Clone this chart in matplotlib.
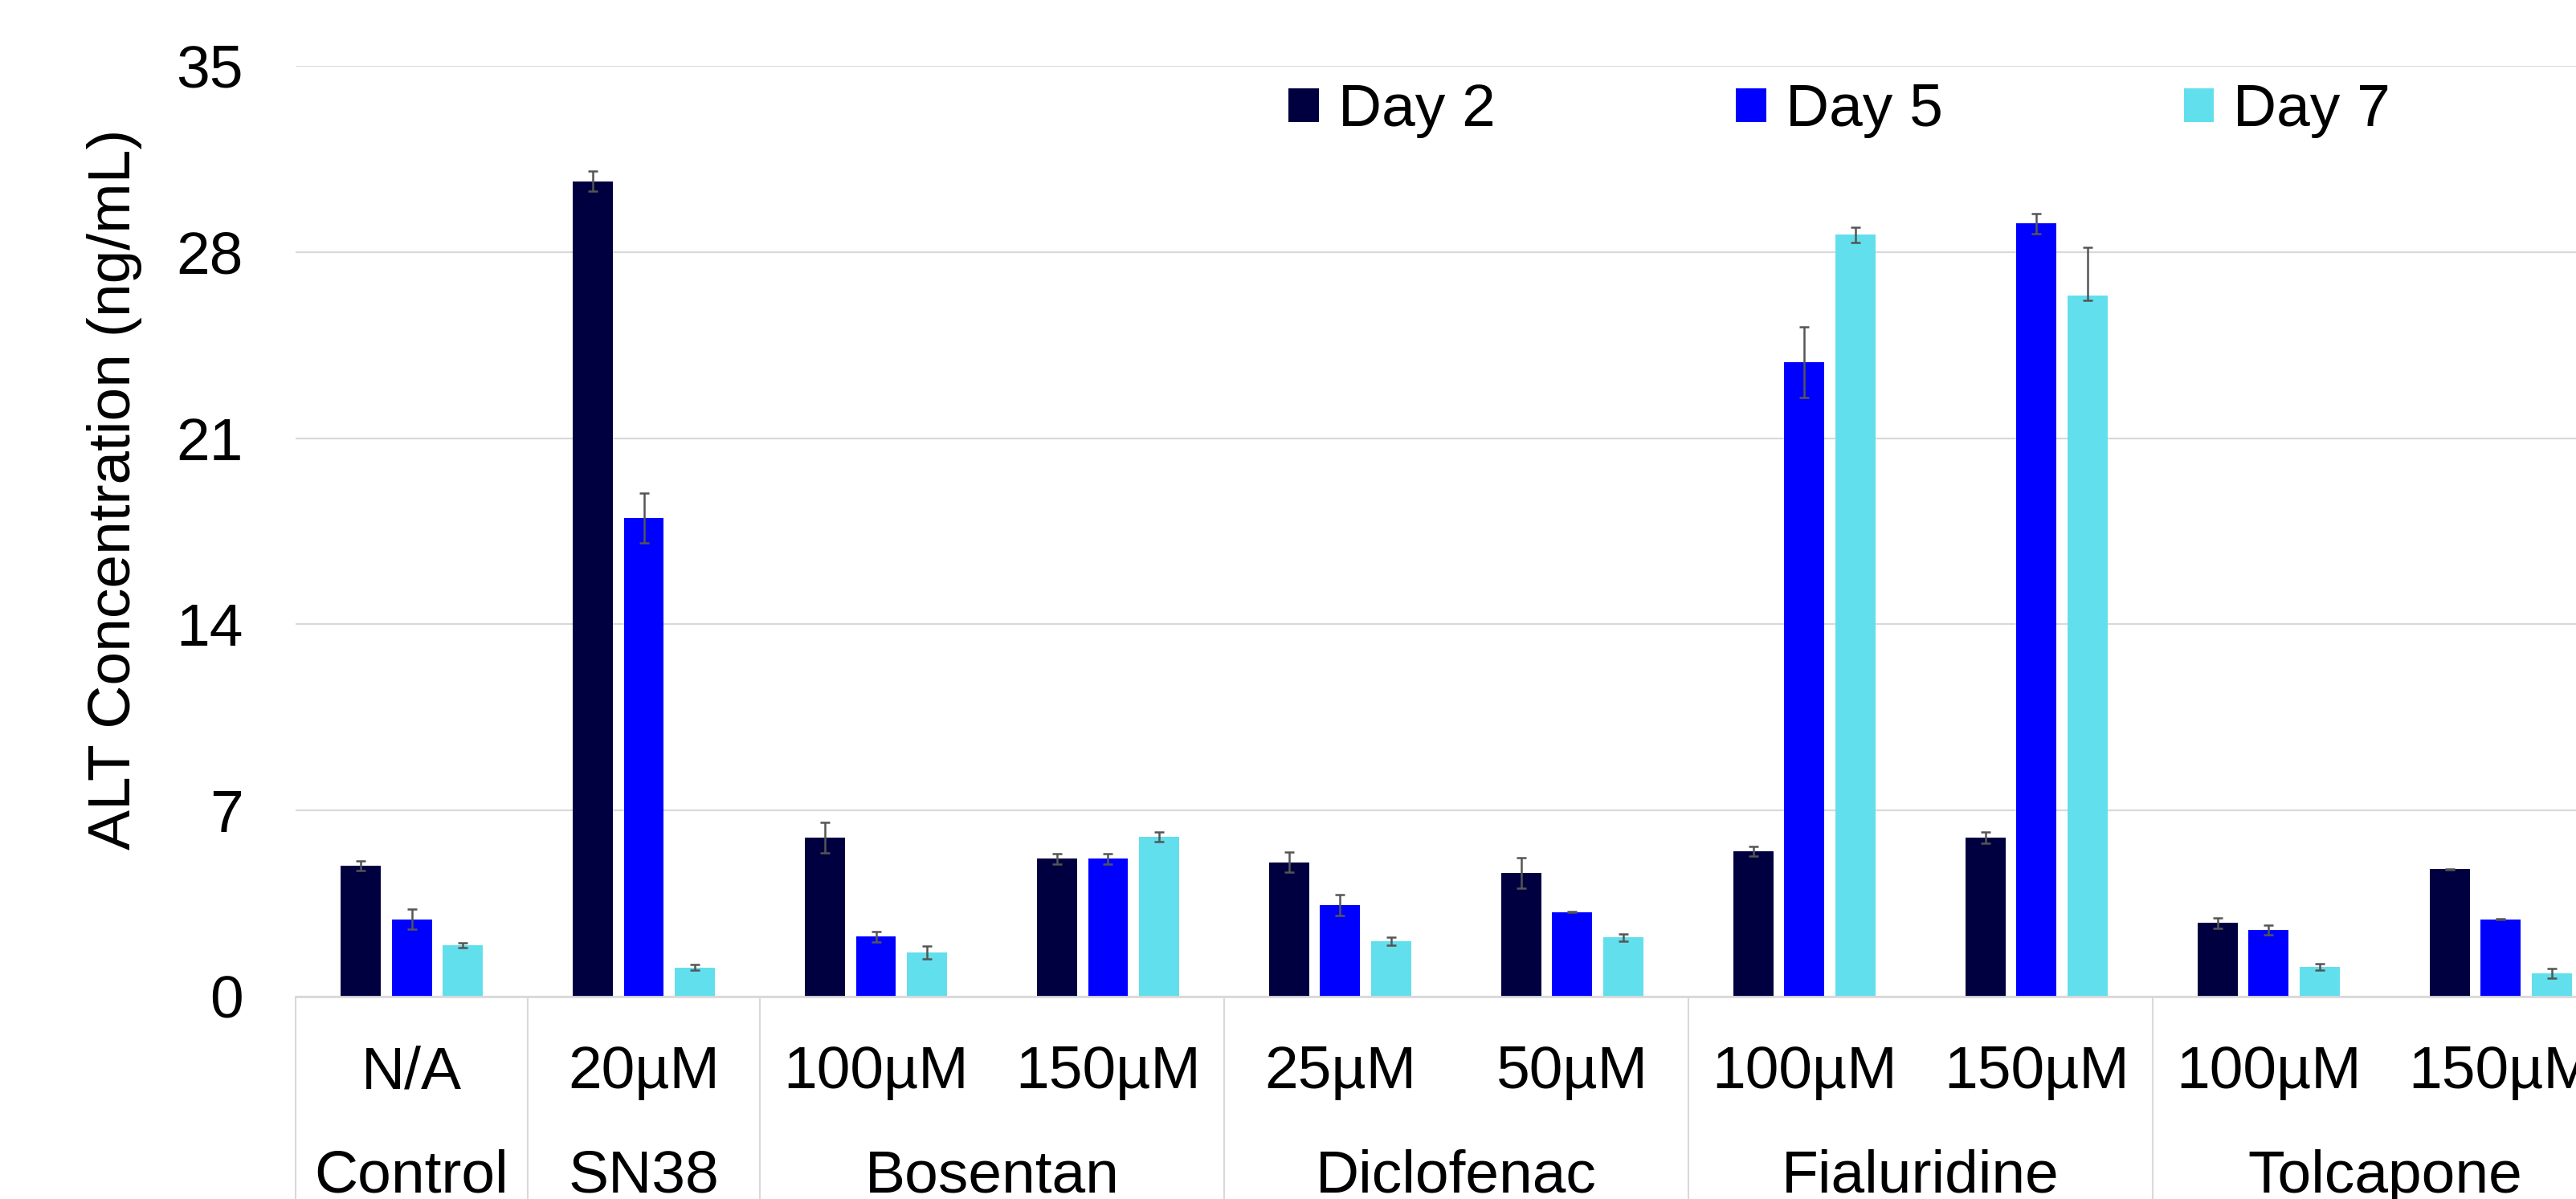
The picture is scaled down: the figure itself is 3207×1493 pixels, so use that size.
import numpy as np
import matplotlib
matplotlib.use("Agg")
from matplotlib import pyplot as plt

plt.rcParams['font.family'] = ['Liberation Sans', 'DejaVu Sans']

# data
doses = ['N/A', '20µM', '100µM', '150µM', '25µM', '50µM', '100µM', '150µM', '100µM', '150µM']
drugs = ['Control', 'SN38', 'Bosentan', 'Diclofenac', 'Fialuridine', 'Tolcapone']
drug_sizes = [1, 1, 2, 2, 2, 2]

day2 = [4.92, 30.66, 5.98, 5.19, 5.05, 4.65, 5.46, 5.98, 2.77, 4.79]
day2_err = [0.19, 0.38, 0.57, 0.20, 0.38, 0.57, 0.19, 0.20, 0.19, 0.02]
day5 = [2.91, 18.00, 2.25, 5.19, 3.44, 3.18, 23.87, 29.07, 2.52, 2.91]
day5_err = [0.38, 0.94, 0.20, 0.20, 0.39, 0.02, 1.33, 0.38, 0.18, 0.02]
day7 = [1.93, 1.10, 1.66, 6.01, 2.08, 2.22, 28.65, 26.35, 1.13, 0.88]
day7_err_hi = [0.10, 0.10, 0.23, 0.19, 0.16, 0.13, 0.29, 1.81, 0.12, 0.19]
day7_err_lo = [0.10, 0.10, 0.23, 0.19, 0.16, 0.13, 0.29, 0.17, 0.12, 0.19]

series = ['Day 2', 'Day 5', 'Day 7']
colors = ['#000040', '#0000FF', '#62DFEC']

fs = 54
grid_c = '#D9D9D9'

fig = plt.figure(figsize=(32.07, 14.93), dpi=100)
ax = fig.add_axes([0.11475, 0.16879, 0.90115, 0.77629])

x = np.arange(len(doses)) + 0.5
pitch = 0.221
w = 0.173
ekw = dict(ecolor='#555555', elinewidth=1.8, capsize=4.5, capthick=1.8)

b2 = ax.bar(x - pitch, day2, w, color=colors[0], yerr=day2_err, error_kw=ekw, label=series[0], zorder=2)
b5 = ax.bar(x, day5, w, color=colors[1], yerr=day5_err, error_kw=ekw, label=series[1], zorder=2)
b7 = ax.bar(x + pitch, day7, w, color=colors[2], yerr=[day7_err_lo, day7_err_hi], error_kw=ekw,
            label=series[2], zorder=2)

ax.set_xlim(0, len(doses))
ax.set_ylim(0, 35)
ax.set_yticks([0, 7, 14, 21, 28, 35])
ax.yaxis.grid(True, color=grid_c, lw=1.6, zorder=0)
ax.set_axisbelow(True)
ax.tick_params(axis='y', length=0, pad=47, labelsize=fs)
ax.set_xticks([])
for s in ['top', 'right', 'left']:
    ax.spines[s].set_visible(False)
ax.spines['bottom'].set_color(grid_c)
ax.spines['bottom'].set_linewidth(2)

ax.set_ylabel('ALT Concentration (ng/mL)', fontsize=fs, va='center')
ax.yaxis.set_label_coords(-0.0779, 0.545)

# two-level category axis
tr = ax.get_xaxis_transform()
for xi, d in zip(x, doses):
    ax.text(xi, -0.0984, d, transform=tr, ha='center', va='baseline', fontsize=fs)

edges = np.concatenate([[0], np.cumsum(drug_sizes)])
for i, name in enumerate(drugs):
    ax.text((edges[i] + edges[i + 1]) / 2, -0.2105, name, transform=tr,
            ha='center', va='baseline', fontsize=fs)
for e in edges:
    ax.plot([e, e], [0, -0.22], transform=tr, color=grid_c, lw=1.5, clip_on=False)

fig.legend(handles=[b2, b5, b7], labels=series, loc='center left',
           bbox_to_anchor=(1604 / 3207, 1 - 138 / 1493), ncol=3, frameon=False,
           fontsize=fs, handlelength=0.5, handleheight=0.5, handletextpad=0.32,
           columnspacing=4.0, borderpad=0, borderaxespad=0)

fig.savefig('out.png', dpi=100)
